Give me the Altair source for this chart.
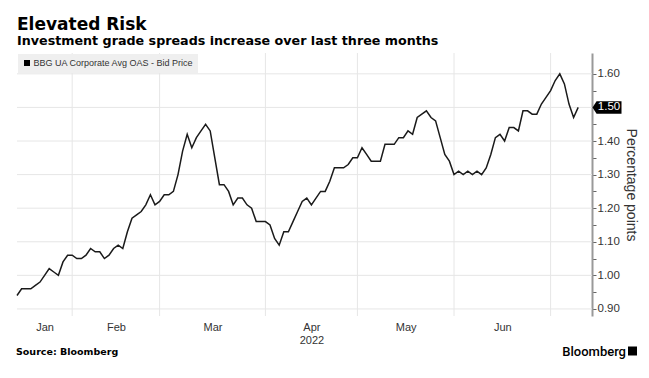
import altair as alt
import pandas as pd

# ---- data -------------------------------------------------------------
series_name = "BBG UA Corporate Avg OAS - Bid Price"
holidays = ["2022-01-17", "2022-02-21", "2022-04-15", "2022-05-30", "2022-06-20", "2022-07-04"]

oas = [
    0.94, 0.96, 0.96, 0.96, 0.97, 0.98, 1.00, 1.02, 1.01, 1.00,   # Jan
    1.04, 1.06,
    1.06, 1.05, 1.05, 1.06, 1.08, 1.07, 1.07, 1.05, 1.06, 1.08,   # Feb
    1.09, 1.08, 1.13, 1.17, 1.18, 1.19, 1.21, 1.24, 1.21,
    1.22, 1.24, 1.24, 1.25, 1.30, 1.37, 1.42, 1.38, 1.41, 1.43,   # Mar
    1.45, 1.43, 1.35, 1.27, 1.27, 1.25, 1.21, 1.23, 1.23, 1.21,
    1.20, 1.16, 1.16,
    1.16, 1.15, 1.11, 1.09, 1.13, 1.13, 1.16, 1.19, 1.22, 1.23,   # Apr
    1.21, 1.23, 1.25, 1.25, 1.28, 1.32, 1.32, 1.32, 1.33, 1.35,
    1.35, 1.38, 1.36, 1.34, 1.34, 1.34, 1.39, 1.39, 1.39, 1.41,   # May
    1.41, 1.43, 1.42, 1.47, 1.48, 1.49, 1.47, 1.46, 1.41, 1.36,
    1.34,
    1.30, 1.31, 1.30, 1.31, 1.30, 1.31, 1.30, 1.32, 1.36, 1.41,   # Jun
    1.42, 1.40, 1.44, 1.44, 1.43, 1.49, 1.49, 1.48, 1.48, 1.51,
    1.53,
    1.55, 1.58, 1.60, 1.57, 1.51, 1.47, 1.50,                     # Jul
]

dates = [d for d in pd.bdate_range("2022-01-13", "2022-07-12")
         if d.strftime("%Y-%m-%d") not in holidays]
assert len(dates) == len(oas), (len(dates), len(oas))

df = pd.DataFrame({"i": range(len(oas)), "date": dates, "value": oas,
                   "series": series_name})

# month boundaries (first trading day of each month) and label positions
months = [d.month for d in dates]
starts = [0] + [k for k in range(1, len(dates)) if months[k] != months[k - 1]]
bounds = starts[1:]
ends = starts[1:] + [len(dates)]
month_labels = []
for s, e in zip(starts, ends):
    if e - s >= 10:
        month_labels.append(((s + e) / 2, dates[s].strftime("%b")))

grid_df = pd.DataFrame({"i": bounds})
y_major = [0.90, 1.00, 1.10, 1.20, 1.30, 1.40, 1.50, 1.60]
y_ticks = [0.90, 0.95, 1.00, 1.05, 1.10, 1.15, 1.20, 1.25, 1.30, 1.35,
           1.40, 1.45, 1.50, 1.55, 1.60]
hgrid_df = pd.DataFrame({"value": y_major})

W, H = 575, 263

# ---- encodings ------------------------------------------------------------
expr = ""
for pos, lab in month_labels:
    txt = "['Apr', '2022']" if lab == "Apr" else f"'{lab}'"
    expr += f"datum.value == {pos} ? {txt} : "
expr += "''"

x_enc = alt.X("i:Q",
              scale=alt.Scale(domain=[0, 125], nice=False, zero=False),
              axis=alt.Axis(values=[p for p, _ in month_labels], labelExpr=expr,
                            grid=False, ticks=False, domain=False, title=None,
                            labelFontSize=11, labelColor="#333", labelPadding=5,
                            labelLineHeight=13, labelFont="Liberation Sans"))

y_enc = alt.Y("value:Q",
              scale=alt.Scale(domain=[0.879, 1.662], nice=False, zero=False),
              axis=alt.Axis(orient="right", values=y_ticks,
                            labelExpr="round(datum.value*100) % 10 == 0 ? format(datum.value, '.2f') : ''",
                            grid=False, tickSize=4, tickColor="#666", tickWidth=1,
                            domainColor="#999", domainWidth=2,
                            labelFontSize=11.5, labelColor="#333", labelPadding=1,
                            labelFont="Liberation Sans",
                            title="Percentage points", titleFontSize=14,
                            titleFontWeight="normal", titleColor="#333",
                            titleFont="Liberation Sans", titlePadding=4))

base = alt.Chart(df)

hgrid = alt.Chart(hgrid_df).mark_rule(color="#e6e6e6", strokeWidth=1).encode(y=y_enc)
vgrid = alt.Chart(grid_df).mark_rule(color="#e6e6e6", strokeWidth=1).encode(x=x_enc)

line = base.mark_line(strokeWidth=1.5).encode(
    x=x_enc, y=y_enc,
    color=alt.Color("series:N", scale=alt.Scale(range=["#1a1a1a"]),
                    legend=alt.Legend(orient="top-left", title=None, offset=1,
                                      fillColor="#efefef", padding=4.5,
                                      symbolType="square", symbolSize=36,
                                      symbolFillColor="#000", symbolStrokeColor="#000",
                                      symbolStrokeWidth=0, labelFontSize=9,
                                      labelColor="#333", labelFont="Liberation Sans",
                                      labelOffset=2, labelLimit=0)),
)

last = base.transform_filter(alt.datum.i == len(oas) - 1)
tag = last.mark_point(
    shape="M-1,0 L-0.72,-0.43 L1,-0.43 L1,0.43 L-0.72,0.43 Z",
    size=840, filled=True, color="#000", opacity=1,
).encode(x=alt.value(W + 15), y=y_enc)
tag_text = last.mark_text(color="#fff", fontSize=11.5, font="Liberation Sans",
                          baseline="middle", align="center").encode(
    x=alt.value(W + 17), y=y_enc, text=alt.Text("value:Q", format=".2f"))

def label(txt, x, y, **kw):
    return alt.Chart(pd.DataFrame({"t": [txt]})).mark_text(**kw).encode(
        text="t:N", x=alt.value(x), y=alt.value(y))

title = label("Elevated Risk", 0, -23, fontSize=17, fontWeight="bold",
              font="DejaVu Sans", align="left", baseline="alphabetic", color="#000")
subtitle = label("Investment grade spreads increase over last three months", 0, -8,
                 fontSize=12.7, fontWeight="bold", font="DejaVu Sans", align="left",
                 baseline="alphabetic", color="#000")
source = label("Source: Bloomberg", -1, 302, fontSize=9.5, fontWeight="bold",
               font="DejaVu Sans", align="left", baseline="alphabetic", color="#000")
brand = label("Bloomberg", 609, 303, fontSize=13, fontWeight=500,
              font="Roboto", align="right", baseline="alphabetic", color="#000")
icon = alt.Chart(pd.DataFrame({"t": [1]})).mark_square(
    size=81, color="#000", filled=True, opacity=1).encode(
    x=alt.value(615.5), y=alt.value(298))

chart = alt.layer(
    hgrid, vgrid, line, tag, tag_text, title, subtitle, source, brand, icon
).properties(
    width=W, height=H,
    padding={"left": 9, "top": 45, "right": 49, "bottom": 50},
    autosize=alt.AutoSizeParams(type="none"),
).configure_view(stroke=None)

chart.save("out.html", embed_options={"renderer": "svg", "actions": False})
